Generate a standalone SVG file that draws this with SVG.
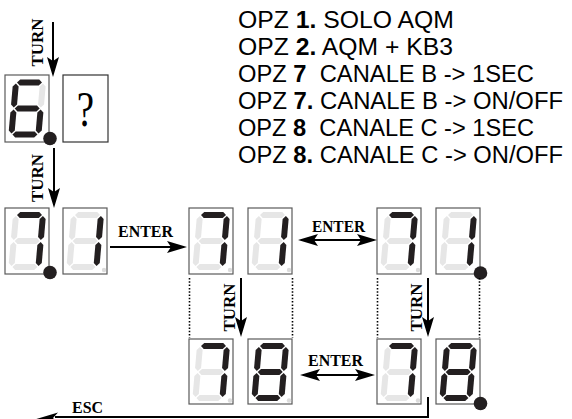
<svg xmlns="http://www.w3.org/2000/svg" width="572" height="419" viewBox="0 0 572 419">
<style>
.box{fill:#fff;stroke:#5a5a5a;stroke-width:1.2}
.qbox{fill:#fff;stroke:#333;stroke-width:1.2}
.on{fill:#231f20}
.off{fill:#e6e6e6}
.dp{fill:#dcdcdc}
.dot{fill:#231f20}
.lbl{font-family:"Liberation Serif","Times New Roman",serif;font-weight:bold;font-size:17px;fill:#000}
.opt{font-family:"Liberation Sans",Arial,sans-serif;font-size:23px;fill:#000}
.b{font-weight:bold}
.ln{fill:none;stroke:#000;stroke-width:2}
.dash{fill:none;stroke:#000;stroke-width:1.6;stroke-dasharray:1.5 1.8}
</style>
<defs>
<polygon id="sa" points="10,7 13,4 32,4 35,7 32,10 13,10"/>
<polygon id="sg" points="10,33 13,30 32,30 35,33 32,36 13,36"/>
<polygon id="sd" points="10,59 13,56 32,56 35,59 32,62 13,62"/>
<polygon id="sf" points="9,8 12,11 12,29 9,32 6,29 6,11"/>
<polygon id="sb" points="36,8 39,11 39,29 36,32 33,29 33,11"/>
<polygon id="se" points="9,34 12,37 12,55 9,58 6,55 6,37"/>
<polygon id="sc" points="36,34 39,37 39,55 36,58 33,55 33,37"/>
<marker id="ah" markerUnits="userSpaceOnUse" markerWidth="20" markerHeight="12" refX="17" refY="6" orient="auto-start-reverse" viewBox="0 0 20 12"><path d="M0,0 L20,6 L0,12 L4,6 Z" fill="#000"/></marker>
</defs>

<g id="disp-6" transform="translate(5,75)">
<rect class="box" width="44" height="67"/>
<g transform="translate(2.6,0.5) skewX(-5)">
<use href="#sa" class="on"/><use href="#sb" class="off"/><use href="#sc" class="on"/><use href="#sd" class="on"/><use href="#se" class="on"/><use href="#sf" class="on"/><use href="#sg" class="on"/>
</g>
<circle class="dot" cx="45" cy="63.5" r="6.8"/>
</g>

<g id="disp-q" transform="translate(63,75)">
<rect class="qbox" width="45" height="67"/>
<text transform="translate(22.5,50.5) scale(0.78,1)" text-anchor="middle" style="font-family:'Liberation Serif','Times New Roman',serif;font-size:50px">?</text>
</g>

<g id="r2-d1" transform="translate(5,208)">
<rect class="box" width="44" height="66"/>
<g transform="translate(2.6,0) skewX(-5)">
<use href="#sa" class="on"/><use href="#sb" class="on"/><use href="#sc" class="on"/><use href="#sd" class="off"/><use href="#se" class="off"/><use href="#sf" class="off"/><use href="#sg" class="off"/>
</g>
<circle class="dot" cx="45" cy="64.5" r="6.8"/>
</g>
<g id="r2-d2" transform="translate(63,208)">
<rect class="box" width="44" height="66"/>
<g transform="translate(2.6,0) skewX(-5)">
<use href="#sa" class="off"/><use href="#sb" class="on"/><use href="#sc" class="on"/><use href="#sd" class="off"/><use href="#se" class="off"/><use href="#sf" class="off"/><use href="#sg" class="off"/>
</g>
<circle class="dp" cx="41" cy="62" r="2.2"/>
</g>
<g id="r2-d3" transform="translate(189,208)">
<rect class="box" width="44" height="66"/>
<g transform="translate(2.6,0) skewX(-5)">
<use href="#sa" class="on"/><use href="#sb" class="on"/><use href="#sc" class="on"/><use href="#sd" class="off"/><use href="#se" class="off"/><use href="#sf" class="off"/><use href="#sg" class="off"/>
</g>
<circle class="dp" cx="41" cy="62" r="2.2"/>
</g>
<g id="r2-d4" transform="translate(248,208)">
<rect class="box" width="44" height="66"/>
<g transform="translate(2.6,0) skewX(-5)">
<use href="#sa" class="off"/><use href="#sb" class="on"/><use href="#sc" class="on"/><use href="#sd" class="off"/><use href="#se" class="off"/><use href="#sf" class="off"/><use href="#sg" class="off"/>
</g>
<circle class="dp" cx="41" cy="62" r="2.2"/>
</g>
<g id="r2-d5" transform="translate(377,208)">
<rect class="box" width="44" height="66"/>
<g transform="translate(2.6,0) skewX(-5)">
<use href="#sa" class="on"/><use href="#sb" class="on"/><use href="#sc" class="on"/><use href="#sd" class="off"/><use href="#se" class="off"/><use href="#sf" class="off"/><use href="#sg" class="off"/>
</g>
<circle class="dp" cx="41" cy="62" r="2.2"/>
</g>
<g id="r2-d6" transform="translate(436,208)">
<rect class="box" width="44" height="66"/>
<g transform="translate(2.6,0) skewX(-5)">
<use href="#sa" class="off"/><use href="#sb" class="on"/><use href="#sc" class="on"/><use href="#sd" class="off"/><use href="#se" class="off"/><use href="#sf" class="off"/><use href="#sg" class="off"/>
</g>
<circle class="dot" cx="44.5" cy="65" r="6.8"/>
</g>

<g id="r3-d1" transform="translate(189,339)">
<rect class="box" width="44" height="65"/>
<g transform="translate(2.6,0) skewX(-5)">
<use href="#sa" class="on"/><use href="#sb" class="on"/><use href="#sc" class="on"/><use href="#sd" class="off"/><use href="#se" class="off"/><use href="#sf" class="off"/><use href="#sg" class="off"/>
</g>
<circle class="dp" cx="41" cy="61.5" r="2.2"/>
</g>
<g id="r3-d2" transform="translate(248,339)">
<rect class="box" width="44" height="65"/>
<g transform="translate(2.6,0) skewX(-5)">
<use href="#sa" class="on"/><use href="#sb" class="on"/><use href="#sc" class="on"/><use href="#sd" class="on"/><use href="#se" class="on"/><use href="#sf" class="on"/><use href="#sg" class="on"/>
</g>
<circle class="dp" cx="41" cy="61.5" r="2.2"/>
</g>
<g id="r3-d3" transform="translate(377,339)">
<rect class="box" width="44" height="65"/>
<g transform="translate(2.6,0) skewX(-5)">
<use href="#sa" class="on"/><use href="#sb" class="on"/><use href="#sc" class="on"/><use href="#sd" class="off"/><use href="#se" class="off"/><use href="#sf" class="off"/><use href="#sg" class="off"/>
</g>
<circle class="dp" cx="41" cy="61.5" r="2.2"/>
</g>
<g id="r3-d4" transform="translate(436,339)">
<rect class="box" width="44" height="65"/>
<g transform="translate(2.6,0) skewX(-5)">
<use href="#sa" class="on"/><use href="#sb" class="on"/><use href="#sc" class="on"/><use href="#sd" class="on"/><use href="#se" class="on"/><use href="#sf" class="on"/><use href="#sg" class="on"/>
</g>
<circle class="dot" cx="44.5" cy="64.5" r="6.8"/>
</g>

<g id="options">
<text class="opt" x="238" y="28" textLength="216" lengthAdjust="spacingAndGlyphs">OPZ <tspan class="b">1.</tspan> SOLO AQM</text>
<text class="opt" x="238" y="55" textLength="215" lengthAdjust="spacingAndGlyphs">OPZ <tspan class="b">2.</tspan> AQM + KB3</text>
<text class="opt" x="238" y="82" textLength="296" lengthAdjust="spacingAndGlyphs">OPZ <tspan class="b">7</tspan>&#160; CANALE B -&gt; 1SEC</text>
<text class="opt" x="238" y="109" textLength="325" lengthAdjust="spacingAndGlyphs">OPZ <tspan class="b">7.</tspan> CANALE B -&gt; ON/OFF</text>
<text class="opt" x="238" y="136" textLength="296" lengthAdjust="spacingAndGlyphs">OPZ <tspan class="b">8</tspan>&#160; CANALE C -&gt; 1SEC</text>
<text class="opt" x="238" y="163" textLength="325" lengthAdjust="spacingAndGlyphs">OPZ <tspan class="b">8.</tspan> CANALE C -&gt; ON/OFF</text>
</g>

<g id="connectors">
<path class="ln" d="M53,22 V74" marker-end="url(#ah)"/>
<text class="lbl" transform="translate(43,42.5) rotate(-90)" text-anchor="middle">TURN</text>
<path class="ln" d="M54,148 V205" marker-end="url(#ah)"/>
<text class="lbl" transform="translate(43,178) rotate(-90)" text-anchor="middle">TURN</text>

<path class="ln" d="M110,247 H184" marker-end="url(#ah)"/>
<text class="lbl" x="118" y="237" textLength="55" lengthAdjust="spacingAndGlyphs">ENTER</text>
<path class="ln" d="M301,240 H374" marker-start="url(#ah)" marker-end="url(#ah)"/>
<text class="lbl" x="312" y="232" textLength="53" lengthAdjust="spacingAndGlyphs">ENTER</text>

<path class="dash" d="M189.5,278 V338 M292.5,278 V338 M377.5,278 V338 M479.5,278 V338"/>

<path class="ln" d="M241,278 V334" marker-end="url(#ah)"/>
<text class="lbl" transform="translate(235,307.5) rotate(-90)" text-anchor="middle">TURN</text>
<path class="ln" d="M428,278 V334" marker-end="url(#ah)"/>
<text class="lbl" transform="translate(422,307.5) rotate(-90)" text-anchor="middle">TURN</text>

<path class="ln" d="M303,375 H372" marker-start="url(#ah)" marker-end="url(#ah)"/>
<text class="lbl" x="308" y="366" textLength="55" lengthAdjust="spacingAndGlyphs">ENTER</text>

<path class="ln" d="M428,397 V417 H55"/>
<polygon points="33,420 58,412.5 53,418 58,424" fill="#000"/>
<text class="lbl" x="72" y="413" textLength="31" lengthAdjust="spacingAndGlyphs">ESC</text>
</g>
</svg>
